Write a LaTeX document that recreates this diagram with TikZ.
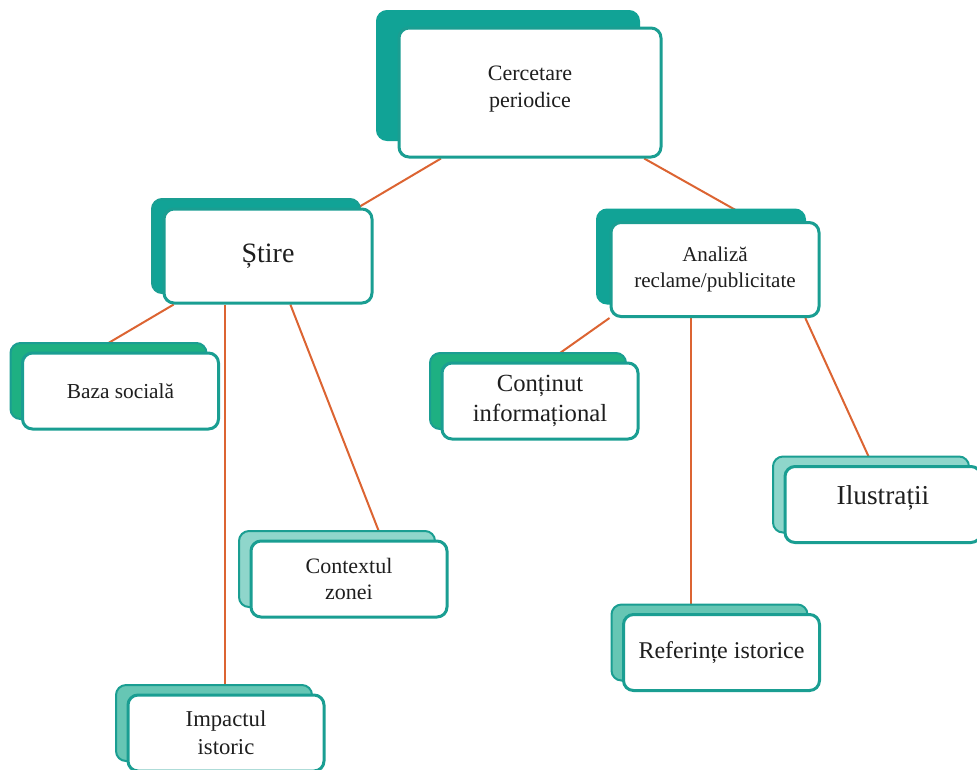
\documentclass[tikz,border=0pt]{standalone}
\usepackage{fontspec}
\setmainfont{Liberation Serif}
\usepackage{tikz}
\usetikzlibrary{shadows}
\usetikzlibrary{calc}
\usetikzlibrary{backgrounds}
\definecolor{boxedge}{RGB}{26,158,146}
\definecolor{topteal}{RGB}{17,163,150}
\definecolor{leafgreen}{RGB}{30,176,130}
\definecolor{paleteal}{RGB}{143,214,203}
\definecolor{midteal}{RGB}{102,198,180}
\definecolor{linkorange}{RGB}{220,100,50}
\definecolor{textgrey}{RGB}{30,30,30}
\newcommand\cardsize[1]{\fontsize{#1}{1.22\dimexpr#1\relax}\selectfont}
\tikzstyle{card}=[draw=boxedge,line width=2.25pt,fill=white,rounded corners=7.5pt,align=center,text=textgrey,inner sep=2pt,minimum width=147pt,minimum height=57pt]
\tikzstyle{bigcard}=[minimum width=156pt,minimum height=70.5pt]
\tikzstyle{link}=[draw=linkorange,line width=1.5pt]
\tikzset{cardback/.style={copy shadow={shadow xshift=-9pt,shadow yshift=7.5pt,fill=#1,draw=boxedge,line width=1.5pt}}}

\begin{document}
\begin{tikzpicture}[x=0.75pt,y=-0.75pt]
	\useasboundingbox (0,0) rectangle (977,769);
	% top
	\node[card,minimum width=196.5pt,minimum height=96.75pt,font=\cardsize{16.5pt},text depth=9pt,
		copy shadow={shadow xshift=-16.5pt,shadow yshift=12.75pt,fill=topteal,draw=topteal,line width=1.5pt}]
		(cerc) at (530,92.5) {Cercetare\\periodice};
	% second level
	\node[card,bigcard,cardback=topteal,font=\cardsize{21pt}] (stire) at (268,256) {Știre};
	\node[card,bigcard,font=\cardsize{15.8pt},
		copy shadow={shadow xshift=-10.5pt,shadow yshift=9.75pt,fill=topteal,draw=topteal,line width=1.5pt}]
		(analiza) at (715,269.5) {Analiză\\reclame/publicitate};
	% leaves
	\node[card,cardback=leafgreen,font=\cardsize{16pt}] (baza) at (120.5,391) {Baza socială};
	\node[card,cardback=paleteal,font=\cardsize{16.5pt}] (context) at (349,579) {Contextul\\zonei};
	\node[card,cardback=midteal,font=\cardsize{17pt}] (impact) at (226,733) {Impactul\\istoric};
	\node[card,cardback=leafgreen,font=\cardsize{18.5pt}] (continut) at (540,401) {Conținut\\informațional};
	\node[card,cardback=midteal,font=\cardsize{18pt}] (referinte) at (721.5,652.5) {Referințe istorice};
	\node[card,cardback=paleteal,font=\cardsize{20.5pt},text depth=14pt] (ilustratii) at (883,504.5) {Ilustrații};
	% links
	\begin{scope}[on background layer]
		\draw[link] ($(cerc.south west)!0.164!(cerc.south east)$) -- ($(stire.north west)!0.927!(stire.north east)$);
		\draw[link] ($(cerc.south west)!0.931!(cerc.south east)$) -- ($(analiza.north west)!0.69!(analiza.north east)$);
		\draw[link] ($(stire.south west)!0.053!(stire.south east)$) -- ($(baza.north west)!0.367!(baza.north east)$);
		\draw[link] ($(stire.south west)!0.298!(stire.south east)$) coordinate (si) -- (si |- impact.north);
		\draw[link] ($(stire.south west)!0.606!(stire.south east)$) -- ($(context.north west)!0.666!(context.north east)$);
		\draw[link] (analiza.south west) -- ($(continut.north west)!0.54!(continut.north east)$);
		\draw[link] ($(analiza.south west)!0.385!(analiza.south east)$) coordinate (ar) -- (ar |- referinte.north);
		\draw[link] ($(analiza.south west)!0.928!(analiza.south east)$) -- ($(ilustratii.north west)!0.447!(ilustratii.north east)$);
	\end{scope}
\end{tikzpicture}
\end{document}
